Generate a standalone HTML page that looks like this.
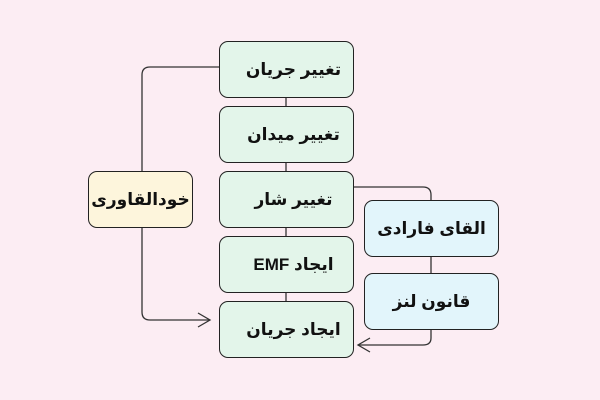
<!DOCTYPE html>
<html><head><meta charset="utf-8"><style>
html,body{margin:0;padding:0;background:#fcedf3;}
body{width:600px;height:400px;position:relative;overflow:hidden;font-family:"Liberation Sans","DejaVu Sans",sans-serif;}
.b{position:absolute;box-sizing:border-box;border:1.5px solid #222;border-radius:9px;display:flex;align-items:center;justify-content:center;font-weight:bold;font-size:17px;color:#111;direction:rtl;}
.g{background:#e3f5ea;width:135px;height:57px;left:219px;padding-right:0;padding-left:14px;}
</style></head><body>
<svg width="600" height="400" style="position:absolute;left:0;top:0" fill="none" stroke="#333" stroke-width="1.3">
<path d="M219 67 H150 Q142 67 142 75 V171"/>
<path d="M142 228 V312 Q142 320 150 320 H210"/>
<path d="M198 313 L210 320 L198 327"/>
<path d="M286 98 V106 M286 163 V171 M286 228 V236 M286 293 V301"/>
<path d="M354 187 H423 Q431 187 431 195 V200"/>
<path d="M431 257 V273"/>
<path d="M431 330 V338 Q431 345 423 345 H358"/>
<path d="M370 338 L358 345 L370 352"/>
</svg>
<div class="b g" style="top:41px">تغییر جریان</div>
<div class="b g" style="top:106px">تغییر میدان</div>
<div class="b g" style="top:171px">تغییر شار</div>
<div class="b g" style="top:236px">ایجاد EMF</div>
<div class="b g" style="top:301px">ایجاد جریان</div>
<div class="b" style="left:88px;top:171px;width:105px;height:57px;background:#fdf5dc">خودالقاوری</div>
<div class="b" style="left:364px;top:200px;width:135px;height:57px;background:#e2f5fb">القای فارادی</div>
<div class="b" style="left:364px;top:273px;width:135px;height:57px;background:#e2f5fb">قانون لنز</div>
</body></html>
